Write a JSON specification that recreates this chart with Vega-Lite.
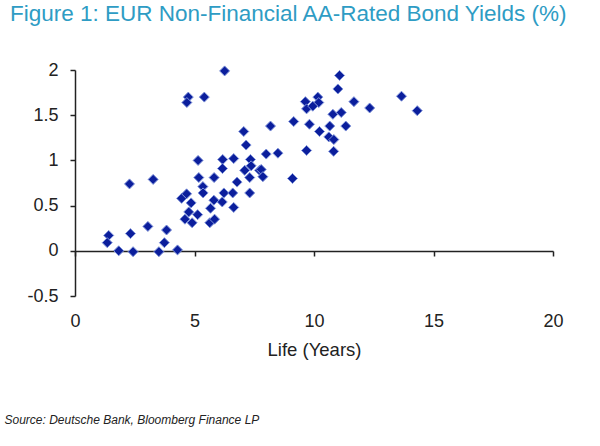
{
  "$schema": "https://vega.github.io/schema/vega-lite/v6.json",
  "width": 478,
  "height": 226,
  "autosize": "none",
  "padding": {"left": 75, "top": 70, "right": 47, "bottom": 150},
  "background": "white",
  "title": {
    "text": "Figure 1: EUR Non-Financial AA-Rated Bond Yields (%)",
    "anchor": "start",
    "frame": "group",
    "dx": -65,
    "offset": 36,
    "font": "Liberation Sans",
    "fontSize": 22.5,
    "fontWeight": "normal",
    "color": "#2E9CC4"
  },
  "config": {
    "view": {"stroke": null},
    "axis": {"grid": false, "labelFont": "Liberation Sans", "titleFont": "Liberation Sans", "labelColor": "#222", "titleColor": "#222", "domainColor": "#222", "tickColor": "#222", "domainWidth": 1.5, "tickWidth": 1.5}
  },
  "data": {
    "values": [
      {"life": 1.41, "yield": 0.17}, {"life": 1.35, "yield": 0.09}, {"life": 1.83, "yield": 0.0}, {"life": 2.43, "yield": -0.01},
      {"life": 2.32, "yield": 0.19}, {"life": 2.28, "yield": 0.74}, {"life": 3.27, "yield": 0.79}, {"life": 3.05, "yield": 0.27},
      {"life": 3.51, "yield": -0.01}, {"life": 3.74, "yield": 0.09}, {"life": 3.83, "yield": 0.23}, {"life": 4.29, "yield": 0.01},
      {"life": 4.74, "yield": 1.70}, {"life": 4.68, "yield": 1.64}, {"life": 5.41, "yield": 1.70}, {"life": 6.26, "yield": 1.99},
      {"life": 4.46, "yield": 0.58}, {"life": 4.67, "yield": 0.63}, {"life": 4.86, "yield": 0.53}, {"life": 4.76, "yield": 0.43},
      {"life": 4.60, "yield": 0.35}, {"life": 4.90, "yield": 0.31}, {"life": 5.13, "yield": 0.40}, {"life": 5.15, "yield": 1.00},
      {"life": 5.18, "yield": 0.81}, {"life": 5.35, "yield": 0.71}, {"life": 5.36, "yield": 0.64}, {"life": 5.82, "yield": 0.81},
      {"life": 5.81, "yield": 0.56}, {"life": 5.67, "yield": 0.47}, {"life": 5.64, "yield": 0.31}, {"life": 5.84, "yield": 0.35},
      {"life": 6.18, "yield": 1.01}, {"life": 6.17, "yield": 0.91}, {"life": 6.16, "yield": 0.54}, {"life": 6.23, "yield": 0.64},
      {"life": 6.64, "yield": 1.02}, {"life": 6.64, "yield": 0.48}, {"life": 6.60, "yield": 0.64}, {"life": 6.78, "yield": 0.76},
      {"life": 7.06, "yield": 1.32}, {"life": 7.16, "yield": 1.17}, {"life": 7.10, "yield": 0.89}, {"life": 7.34, "yield": 1.01},
      {"life": 7.37, "yield": 0.94}, {"life": 7.31, "yield": 0.81}, {"life": 7.31, "yield": 0.64}, {"life": 7.72, "yield": 0.89},
      {"life": 8.18, "yield": 1.38}, {"life": 9.15, "yield": 1.43}, {"life": 9.64, "yield": 1.65}, {"life": 9.69, "yield": 1.57},
      {"life": 10.16, "yield": 1.70}, {"life": 10.20, "yield": 1.64}, {"life": 9.95, "yield": 1.60}, {"life": 9.81, "yield": 1.40},
      {"life": 10.23, "yield": 1.32}, {"life": 11.07, "yield": 1.94}, {"life": 11.00, "yield": 1.79}, {"life": 11.67, "yield": 1.65},
      {"life": 12.33, "yield": 1.58}, {"life": 13.66, "yield": 1.71}, {"life": 14.32, "yield": 1.55}, {"life": 10.79, "yield": 1.51},
      {"life": 11.14, "yield": 1.53}, {"life": 10.66, "yield": 1.38}, {"life": 11.33, "yield": 1.38}, {"life": 10.62, "yield": 1.26},
      {"life": 10.83, "yield": 1.23}, {"life": 10.82, "yield": 1.10}, {"life": 9.69, "yield": 1.11}, {"life": 8.00, "yield": 1.07},
      {"life": 8.49, "yield": 1.08}, {"life": 9.10, "yield": 0.80}, {"life": 7.79, "yield": 0.90}, {"life": 7.86, "yield": 0.82}
    ]
  },
  "mark": {"type": "point", "shape": "diamond", "filled": true, "size": 100, "fill": "#0B1E9C", "stroke": "#8094DA", "strokeWidth": 1, "opacity": 1},
  "encoding": {
    "x": {
      "field": "life", "type": "quantitative",
      "scale": {"domain": [0, 20], "nice": false, "zero": false},
      "axis": {"title": "Life (Years)", "values": [0, 5, 10, 15, 20], "offset": -45, "tickSize": 5, "labelPadding": 56, "labelFontSize": 18, "titleFontSize": 18.5, "titleFontWeight": "normal", "titlePadding": 10, "labelFlush": false}
    },
    "y": {
      "field": "yield", "type": "quantitative",
      "scale": {"domain": [-0.5, 2], "nice": false, "zero": false},
      "axis": {"values": [-0.5, 0, 0.5, 1, 1.5, 2], "format": "~g", "labelExpr": "replace(datum.label, '−', '-')", "tickSize": 5, "labelPadding": 12, "labelFontSize": 18, "labelFlush": false,
        "title": "Source: Deutsche Bank, Bloomberg Finance LP", "titleAngle": 0, "titleX": -71, "titleY": 349, "titleAlign": "left", "titleBaseline": "middle", "titleFont": "Liberation Sans", "titleFontStyle": "italic", "titleFontWeight": "normal", "titleFontSize": 12}
    }
  }
}
